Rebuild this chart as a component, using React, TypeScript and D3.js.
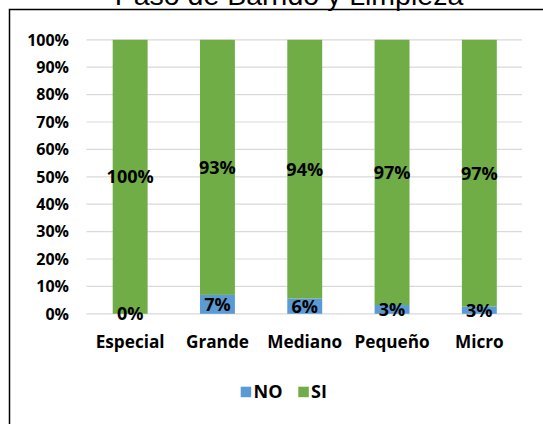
import React from "react";
import * as d3 from "d3";

const title = "Paso de Barrido y Limpieza";
const categories = ["Especial", "Grande", "Mediano", "Pequeño", "Micro"];
const noValues = [0, 6.9, 5.6, 3.2, 2.7];
const siValues = [100, 93.1, 94.4, 96.8, 97.3];
const noLabels = ["0%", "7%", "6%", "3%", "3%"];
const siLabels = ["100%", "93%", "94%", "97%", "97%"];
const yTicks = [0, 10, 20, 30, 40, 50, 60, 70, 80, 90, 100];
const seriesNames = ["NO", "SI"];

const BLUE = "#5B9BD5";
const GREEN = "#70AD47";
const FONT = "'Open Sans', sans-serif";

export default function App() {
  const W = 543;
  const H = 424;
  const x = d3
    .scaleBand<string>()
    .domain(categories)
    .range([86.5, 523])
    .paddingInner(0.6)
    .paddingOuter(0.3);
  const y = d3.scaleLinear().domain([0, 100]).range([313.8, 39.8]);
  const bw = x.bandwidth();

  const data = categories.map((c, i) => ({
    c,
    no: noValues[i],
    si: siValues[i],
    noL: noLabels[i],
    siL: siLabels[i],
  }));

  return (
    <svg
      width={W}
      height={H}
      style={{ position: "fixed", left: 0, top: 0, background: "#fff" }}
    >
      <rect x={0} y={0} width={W} height={H} fill="#fff" />
      {/* chart border */}
      <rect
        x={9.5}
        y={9.5}
        width={W + 20}
        height={H + 20}
        fill="none"
        stroke="#000"
        strokeWidth={1.5}
      />
      {/* title */}
      <text
        x={289}
        y={4.5}
        textAnchor="middle"
        fontFamily="'Liberation Sans', Arial, sans-serif"
        fontSize={28.5}
        fill="#000"
      >
        {title}
      </text>
      {/* gridlines */}
      {yTicks.map((t) => (
        <line
          key={"g" + t}
          x1={86.5}
          x2={522}
          y1={y(t)}
          y2={y(t)}
          stroke="#D9D9D9"
          strokeWidth={1.2}
        />
      ))}
      {/* y tick labels */}
      {yTicks.map((t) => (
        <text
          key={"t" + t}
          x={69}
          y={y(t)}
          dy="0.36em"
          textAnchor="end"
          fontFamily={FONT}
          fontWeight={700}
          fontSize={16}
          fill="#000"
        >
          {t + "%"}
        </text>
      ))}
      {/* bars */}
      {data.map((d) => (
        <g key={d.c}>
          <rect
            x={x(d.c)}
            y={y(d.no)}
            width={bw}
            height={y(0) - y(d.no)}
            fill={BLUE}
          />
          <rect
            x={x(d.c)}
            y={y(d.no + d.si)}
            width={bw}
            height={y(d.no) - y(d.no + d.si)}
            fill={GREEN}
          />
        </g>
      ))}
      {/* data labels */}
      {data.map((d) => (
        <g key={"l" + d.c} fontFamily={FONT} fontWeight={700} fontSize={18} fill="#000">
          <text
            x={(x(d.c) as number) + bw / 2}
            y={y(d.no / 2)}
            dy="0.36em"
            textAnchor="middle"
          >
            {d.noL}
          </text>
          <text
            x={(x(d.c) as number) + bw / 2}
            y={y(d.no + d.si / 2)}
            dy="0.36em"
            textAnchor="middle"
          >
            {d.siL}
          </text>
        </g>
      ))}
      {/* category labels */}
      {categories.map((c) => (
        <text
          key={"c" + c}
          x={(x(c) as number) + bw / 2}
          y={348.3}
          textAnchor="middle"
          fontFamily={FONT}
          fontWeight={700}
          fontSize={17.2}
          fill="#000"
        >
          {c}
        </text>
      ))}
      {/* legend */}
      <g fontFamily={FONT} fontWeight={700} fontSize={18} fill="#000">
        <rect x={240.7} y={386.7} width={10.5} height={10.5} fill={BLUE} />
        <text x={253.5} y={398}>
          {seriesNames[0]}
        </text>
        <rect x={298.3} y={386.7} width={10.5} height={10.5} fill={GREEN} />
        <text x={311} y={398}>
          {seriesNames[1]}
        </text>
      </g>
    </svg>
  );
}
